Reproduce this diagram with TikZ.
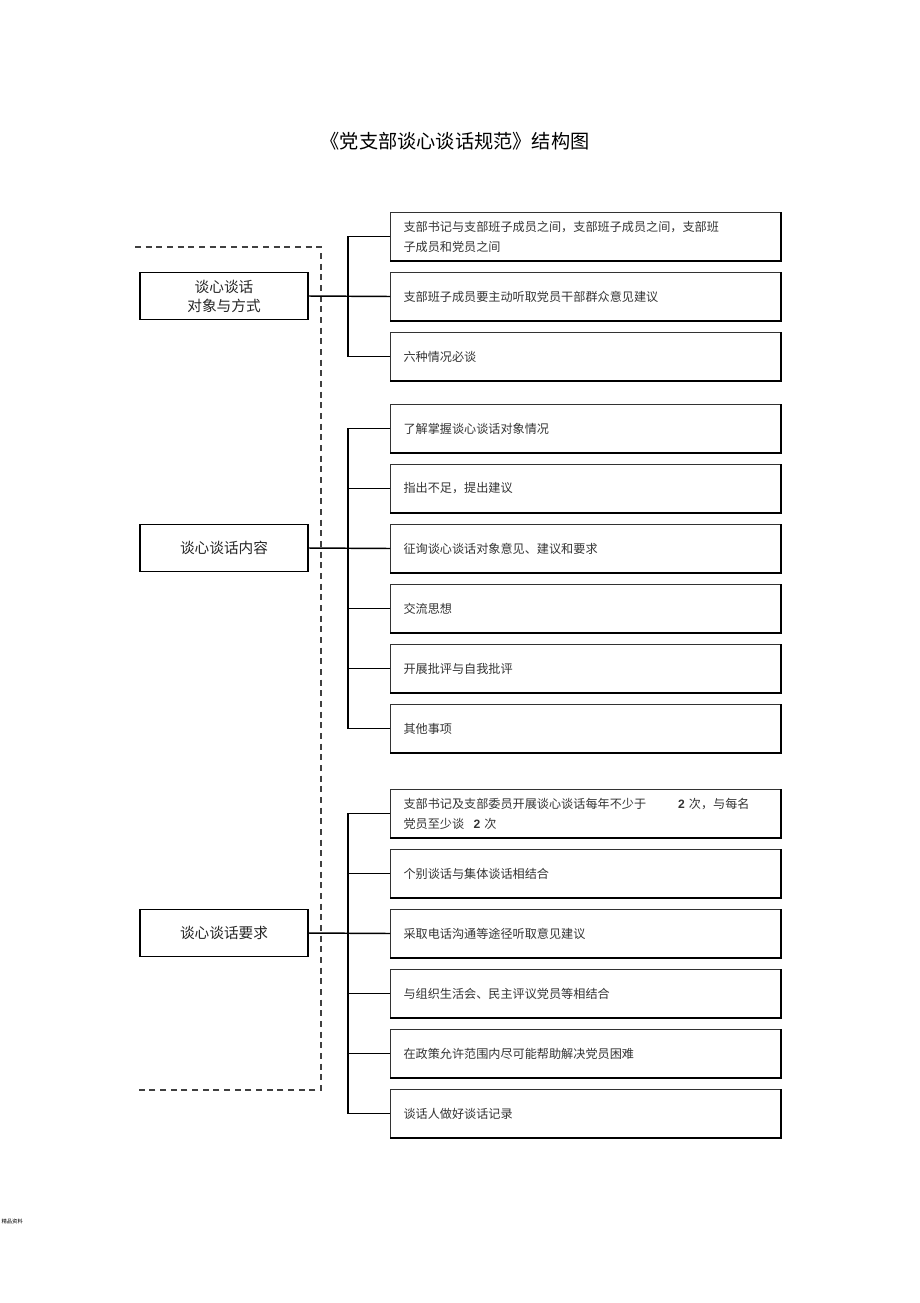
\documentclass[tikz,border=0pt]{standalone}
\usepackage{fontspec}
\setmainfont{Liberation Serif}
\newfontfamily\cjk{Noto Sans CJK SC}
\newfontfamily\arialfont{Liberation Sans}

\tikzset{every picture/.style={line width=0.75pt}}
\tikzset{
  leftbox/.style={draw, line width=1.2pt, minimum width=126pt, minimum height=35.25pt, inner sep=0.75pt, align=center, font=\cjk\fontsize{11}{14.25}\selectfont, text=black!85},
  itembox/.style={draw=black!80, line width=0.75pt, anchor=north west, minimum height=36pt, inner xsep=9.75pt, inner ysep=0.75pt, text width=273pt, align=left, font=\cjk\fontsize{9.1}{15}\selectfont, text=black!80},
  dashframe/.style={draw=black!75, line width=1.1pt, dash pattern={on 4.5pt off 3.5pt}},
  branch/.style={draw=black, line width=1.1pt}
}
\newcommand{\boldtwo}{\textbf{\arialfont 2}}

\begin{document}
\begin{tikzpicture}[x=0.75pt,y=0.75pt,yscale=-1,xscale=1]
\useasboundingbox (0,0) rectangle (920,1303);

% Title
\node (title) at (455,141) {\cjk\fontsize{14.4}{16}\selectfont 《党支部谈心谈话规范》结构图};

%Dashed frame
\coordinate (dtl) at (135,247);
\coordinate (dtr) at (321,247);
\coordinate (dbr) at (321,1090);
\coordinate (dbl) at (135,1090);
\draw [dashframe] (dtl) -- (dtr) -- (dbr) -- (dbl);

% Left boxes
\node [leftbox] (l1) at (224,296) {谈心谈话\\对象与方式};
\node [leftbox] (l2) at (224,548) {谈心谈话内容};
\node [leftbox] (l3) at (224,933) {谈心谈话要求};

% Right boxes: group 1
\node [itembox] (a1) at (390,212) {支部书记与支部班子成员之间，支部班子成员之间，支部班\\子成员和党员之间};
\node [itembox] (a2) at (390,272) {支部班子成员要主动听取党员干部群众意见建议};
\node [itembox] (a3) at (390,332) {六种情况必谈};

% Right boxes: group 2
\node [itembox] (b1) at (390,404) {了解掌握谈心谈话对象情况};
\node [itembox] (b2) at (390,464) {指出不足，提出建议};
\node [itembox] (b3) at (390,524) {征询谈心谈话对象意见、建议和要求};
\node [itembox] (b4) at (390,584) {交流思想};
\node [itembox] (b5) at (390,644) {开展批评与自我批评};
\node [itembox] (b6) at (390,704) {其他事项};

% Right boxes: group 3
\node [itembox] (c1) at (390,789) {支部书记及支部委员开展谈心谈话每年不少于\hspace{24pt}\boldtwo\ 次，与每名\\党员至少谈\hspace{7pt}\boldtwo\ 次};
\node [itembox] (c2) at (390,849) {个别谈话与集体谈话相结合};
\node [itembox] (c3) at (390,909) {采取电话沟通等途径听取意见建议};
\node [itembox] (c4) at (390,969) {与组织生活会、民主评议党员等相结合};
\node [itembox] (c5) at (390,1029) {在政策允许范围内尽可能帮助解决党员困难};
\node [itembox] (c6) at (390,1089) {谈话人做好谈话记录};

% heavier lower and right edges
\foreach \b in {a1,a2,a3,b1,b2,b3,b4,b5,b6,c1,c2,c3,c4,c5,c6}
  \draw [line width=1.3pt] (\b.south west) -- (\b.south east) -- (\b.north east);

% Spines
\coordinate (sx) at (348,0);
\draw [branch] (a1.west) -- (a1.west -| sx) |- (a3.west);
\draw [branch] (b1.west) -- (b1.west -| sx) |- (b6.west);
\draw [branch] (c1.west) -- (c1.west -| sx) |- (c6.west);
\foreach \b in {b2,b4,b5,c2,c4,c5}
  \draw [branch] (\b.west) -- (\b.west -| sx);

% Main connectors
\draw [branch] (l1.east) -- (a2.west);
\draw [branch] (l2.east) -- (b3.west);
\draw [branch] (l3.east) -- (c3.west);

% Footer
\node [anchor=west, inner sep=0pt] (foot) at (1,1221) {\cjk\fontsize{4}{5}\selectfont 精品资料};

\end{tikzpicture}
\end{document}
